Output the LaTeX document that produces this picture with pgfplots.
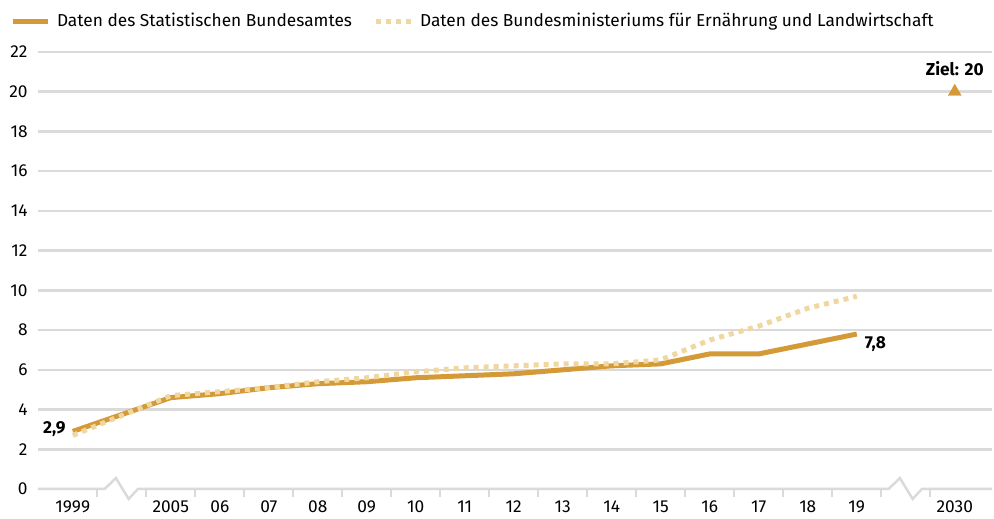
\documentclass[border=0pt]{standalone}
\usepackage{pgfplots}
\pgfplotsset{compat=1.18}
\usepackage{fontspec}
\setmainfont{Fira Sans}
\definecolor{gold}{RGB}{212,154,55}
\definecolor{pale}{RGB}{240,215,160}
\definecolor{gridc}{RGB}{218,218,218}
\newcommand{\fs}{\fontsize{17.3}{20}\selectfont}
\begin{document}
\fs
\begin{tikzpicture}[x=1pt,y=1pt]
\path[use as bounding box] (0,0) rectangle (994,519);
\begin{axis}[
  at={(38pt,30pt)}, anchor=south west,
  scale only axis, width=954pt, height=437pt,
  xmin=-0.71, xmax=18.76, ymin=0, ymax=22,
  clip=false,
  axis line style={draw=none},
  ytick={2,4,...,22},
  extra y ticks={0},
  extra y tick style={grid=none},
  ymajorgrids,
  grid style={gridc, line width=2.5pt},
  xtick={0,2,3,...,16,18},
  xticklabels={1999,2005,06,07,08,09,10,11,12,13,14,15,16,17,18,19,2030},
  minor xtick={0.5,1.5,...,17.5},
  major tick length=0pt, minor tick length=8pt,
  tick align=outside, tick pos=left,
  minor tick style={gridc, line width=2pt},
  tick label style={font=\fs},
  /pgf/number format/assume math mode=true,
  yticklabel style={xshift=-4.5pt},
  xticklabel style={yshift=-6pt},
  legend columns=2,
  legend image code/.code={\draw[#1] (0pt,0pt) -- (35pt,0pt);},
  legend style={at={(-0.02935,1.0709)}, anchor=west, draw=none, fill=none,
    inner sep=0pt, outer sep=0pt, font=\fs,
    nodes={inner sep=0pt},
    /tikz/every odd column/.append style={column sep=7pt},
    /tikz/every even column/.append style={column sep=21pt}},
]
\addplot[gridc, line width=2.5pt, forget plot] coordinates {(-0.71,0) (0.65,0) (0.88,0.55) (1.14,-0.5) (1.33,0) (16.65,0) (16.88,0.55) (17.14,-0.5) (17.33,0) (18.76,0)};
\addplot[gold, line width=5pt] coordinates {(0,2.9)(2,4.6)(3,4.8)(4,5.1)(5,5.3)(6,5.4)(7,5.6)(8,5.7)(9,5.8)(10,6.0)(11,6.2)(12,6.3)(13,6.8)(14,6.8)(15,7.3)(16,7.8)};
\addlegendentry{Daten des Statistischen Bundesamtes}
\addplot[pale, line width=5pt, dash pattern=on 5pt off 5pt] coordinates {(0,2.7)(2,4.7)(3,4.9)(4,5.1)(5,5.4)(6,5.6)(7,5.9)(8,6.1)(9,6.2)(10,6.3)(11,6.3)(12,6.5)(13,7.5)(14,8.2)(15,9.1)(16,9.7)};
\addlegendentry{Daten des Bundesministeriums für Ernährung und Landwirtschaft}
\addplot[gold, only marks, mark=triangle*, mark size=7.5pt, forget plot] coordinates {(18,20)};
\node[anchor=base east, font=\bfseries, inner sep=0pt, xshift=-7pt, yshift=-2pt] at (axis cs:0,2.9) {2,9};
\node[anchor=base west, font=\bfseries, inner sep=0pt, xshift=8pt, yshift=-14pt] at (axis cs:16,7.8) {7,8};
\node[anchor=base, font=\bfseries, inner sep=0pt, yshift=16pt] at (axis cs:18,20) {Ziel: 20};
\end{axis}
\end{tikzpicture}
\end{document}
